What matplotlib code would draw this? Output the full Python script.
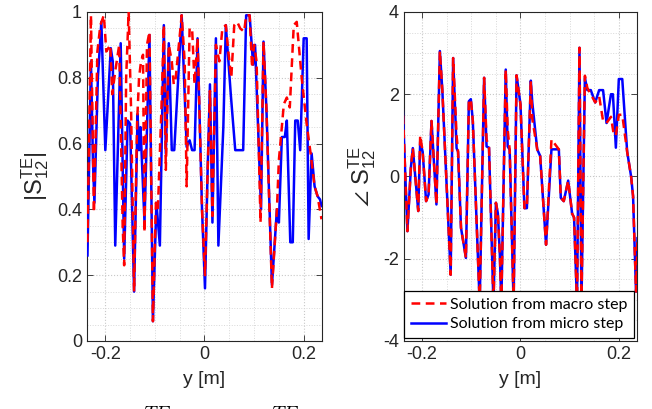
import numpy as np
import matplotlib
matplotlib.use('Agg')
import matplotlib.pyplot as plt
from matplotlib.ticker import AutoMinorLocator

plt.rcParams['font.family'] = ['Liberation Sans', 'DejaVu Sans']
plt.rcParams['axes.unicode_minus'] = False
plt.rcParams['mathtext.fontset'] = 'custom'
plt.rcParams['mathtext.rm'] = 'Liberation Sans'
plt.rcParams['mathtext.it'] = 'Liberation Sans:italic'

# |S12| - micro step (blue)
mag_micro_y = [-0.236, -0.229, -0.225, -0.222, -0.215, -0.208, -0.200, -0.189, -0.185, -0.180,
               -0.169, -0.162, -0.155, -0.150, -0.142, -0.135, -0.132, -0.129, -0.121, -0.111,
               -0.104, -0.097, -0.090, -0.082, -0.078, -0.072, -0.066, -0.061, -0.046, -0.036,
               -0.030, -0.025, -0.020, -0.014, -0.005, 0.001, 0.006, 0.011, 0.016, 0.023,
               0.028, 0.038, 0.043, 0.053, 0.062, 0.078, 0.084, 0.091, 0.098, 0.102,
               0.109, 0.114, 0.119, 0.125, 0.136, 0.146, 0.150, 0.156, 0.162, 0.166,
               0.173, 0.178, 0.183, 0.188, 0.193, 0.200, 0.206, 0.210, 0.216, 0.222,
               0.228, 0.233, 0.236]
mag_micro = [0.26, 0.85, 0.55, 0.42, 0.80, 0.97, 0.58, 0.89, 0.85, 0.29,
             0.905, 0.25, 0.67, 0.66, 0.15, 0.69, 0.58, 0.65, 0.36, 0.93,
             0.06, 0.42, 0.29, 0.96, 0.57, 0.905, 0.58, 0.58, 0.99, 0.59,
             0.61, 0.58, 0.58, 0.92, 0.40, 0.16, 0.50, 0.78, 0.36, 0.92,
             0.29, 0.65, 0.96, 0.75, 0.58, 0.58, 0.99, 0.99, 0.84, 0.90,
             0.61, 0.40, 0.91, 0.70, 0.17, 0.40, 0.36, 0.62, 0.62, 0.67,
             0.30, 0.30, 0.67, 0.67, 0.58, 0.92, 0.92, 0.31, 0.57, 0.47,
             0.44, 0.43, 0.41]

# |S12| - macro step (red)
mag_macro_y = [-0.236, -0.229, -0.223, -0.216, -0.210, -0.203, -0.198, -0.190, -0.186, -0.180,
               -0.172, -0.165, -0.162, -0.158, -0.153, -0.148, -0.142, -0.136, -0.132, -0.128,
               -0.124, -0.121, -0.116, -0.111, -0.104, -0.098, -0.094, -0.087, -0.082, -0.078,
               -0.072, -0.066, -0.062, -0.058, -0.046, -0.040, -0.036, -0.030, -0.025, -0.020,
               -0.014, -0.005, 0.001, 0.006, 0.011, 0.016, 0.023, 0.030, 0.036, 0.043,
               0.048, 0.054, 0.060, 0.066, 0.072, 0.080, 0.084, 0.091, 0.096, 0.100,
               0.105, 0.109, 0.113, 0.119, 0.125, 0.131, 0.136, 0.146, 0.150, 0.153,
               0.160, 0.166, 0.172, 0.180, 0.186, 0.196, 0.206, 0.214, 0.222, 0.228,
               0.236]
mag_macro = [0.30, 0.99, 0.39, 0.88, 0.96, 0.99, 0.88, 0.90, 0.75, 0.82,
             0.90, 0.35, 0.23, 0.80, 1.00, 0.70, 0.15, 0.66, 0.80, 0.85,
             0.87, 0.33, 0.90, 0.94, 0.06, 0.42, 0.40, 0.70, 0.96, 0.52,
             0.90, 0.85, 0.78, 0.80, 0.99, 0.85, 0.47, 0.95, 0.95, 0.78,
             0.92, 0.40, 0.20, 0.50, 0.76, 0.38, 0.90, 0.85, 0.95, 0.96,
             0.88, 0.80, 0.96, 0.97, 0.95, 0.94, 0.99, 0.99, 0.83, 0.90,
             0.85, 0.61, 0.36, 0.91, 0.70, 0.40, 0.16, 0.40, 0.55, 0.60,
             0.72, 0.74, 0.71, 0.96, 0.97, 0.80, 0.66, 0.57, 0.47, 0.44,
             0.37]

# angle S12 - micro step (blue)
ph_micro_y = [-0.240, -0.230, -0.223, -0.219, -0.208, -0.204, -0.199, -0.192, -0.187, -0.181,
              -0.171, -0.164, -0.159, -0.142, -0.137, -0.130, -0.127, -0.121, -0.111, -0.105,
              -0.101, -0.097, -0.083, -0.074, -0.069, -0.064, -0.055, -0.050, -0.046, -0.042,
              -0.039, -0.030, -0.026, -0.022, -0.014, -0.008, 0.000, 0.008, 0.013, 0.021,
              0.024, 0.034, 0.040, 0.052, 0.063, 0.078, 0.082, 0.088, 0.097, 0.105,
              0.109, 0.115, 0.120, 0.124, 0.131, 0.136, 0.143, 0.152, 0.160, 0.168,
              0.175, 0.184, 0.188, 0.194, 0.200, 0.207, 0.217, 0.225, 0.229, 0.235,
              0.238]
ph_micro = [1.83, -1.33, 0.21, 0.69, -0.84, 0.85, 0.60, -0.60, -0.44, 1.35,
            -0.68, 3.05, 2.10, -2.39, 2.88, 0.69, 0.60, -1.25, -1.98, 1.83,
            1.88, 1.35, -3.10, 2.40, 0.73, 0.70, -3.10, -0.64, -0.90, -1.90,
            -3.10, 2.60, 0.73, 0.65, -3.10, 2.46, 1.75, -0.77, -0.77, 2.33,
            1.80, 0.66, 0.50, -1.66, 0.66, 0.66, -0.52, -0.60, -0.10, -0.90,
            -1.00, -3.10, 3.13, -3.10, 2.40, 2.10, 2.10, 1.80, 2.10, 2.10,
            1.30, 2.00, 2.00, 0.70, 2.37, 2.37, 0.60, 0.00, -0.48, -2.80,
            -1.50]

# angle S12 - macro step (red)
ph_macro_y = [-0.240, -0.230, -0.223, -0.219, -0.208, -0.204, -0.199, -0.192, -0.187, -0.181,
              -0.171, -0.164, -0.159, -0.142, -0.137, -0.130, -0.127, -0.121, -0.111, -0.105,
              -0.101, -0.097, -0.083, -0.074, -0.069, -0.064, -0.055, -0.050, -0.046, -0.042,
              -0.039, -0.030, -0.026, -0.022, -0.014, -0.008, 0.000, 0.008, 0.013, 0.021,
              0.024, 0.034, 0.040, 0.052, 0.063, 0.078, 0.082, 0.088, 0.097, 0.105,
              0.109, 0.115, 0.120, 0.124, 0.131, 0.136, 0.143, 0.152, 0.160, 0.168,
              0.175, 0.184, 0.190, 0.194, 0.200, 0.207, 0.217, 0.225, 0.229, 0.235,
              0.238]
ph_macro = [1.83, -1.33, 0.21, 0.69, -0.84, 1.00, 0.60, -0.60, -0.44, 1.35,
            -0.68, 3.05, 2.10, -2.39, 2.88, 1.00, 0.60, -1.25, -1.98, 1.83,
            1.88, 1.35, -3.10, 2.40, 0.90, 0.70, -3.10, -0.64, -0.90, -1.90,
            -3.10, 2.60, 1.14, 0.65, -3.10, 2.46, 1.75, -0.77, -0.77, 2.33,
            1.40, 0.66, 0.50, -1.66, 0.90, 0.66, -0.52, -0.60, -0.10, -0.90,
            -1.00, -3.10, 3.13, -3.10, 2.45, 2.15, 2.00, 1.80, 1.95, 1.35,
            1.30, 1.45, 1.00, 1.00, 1.50, 1.50, 0.60, 0.00, -0.48, -2.80,
            -1.50]

dark = '#262626'
fig = plt.figure(figsize=(6.52, 4.09), dpi=100)
ax1 = fig.add_axes([0.1334, 0.1663, 0.3605, 0.8044])
ax2 = fig.add_axes([0.6196, 0.1663, 0.3574, 0.8044])

for ax in (ax1, ax2):
    ax.plot(mag_micro_y if ax is ax1 else ph_micro_y,
            mag_micro if ax is ax1 else ph_micro,
            color='blue', lw=1.8, label='Solution from micro step', zorder=3)
    ax.plot(mag_macro_y if ax is ax1 else ph_macro_y,
            mag_macro if ax is ax1 else ph_macro,
            color='red', lw=1.8, ls=(0, (3.5, 2.2)), label='Solution from macro step', zorder=4)
    ax.set_xlim(-0.237, 0.237)
    ax.set_xticks([-0.2, 0, 0.2])
    ax.set_xticklabels(['-0.2', '0', '0.2'])
    ax.xaxis.set_minor_locator(AutoMinorLocator(4))
    ax.yaxis.set_minor_locator(AutoMinorLocator(4))
    ax.grid(True, which='major', ls=':', color='#c8c8c8', lw=0.8)
    ax.grid(True, which='minor', ls=':', color='#d8d8d8', lw=0.7)
    ax.tick_params(which='both', direction='in', top=True, right=True, colors=dark,
                   labelsize=13, length=4, width=0.6)
    ax.tick_params(which='minor', length=0)
    for s in ax.spines.values():
        s.set_color(dark)
        s.set_linewidth(0.8)
    ax.set_xlabel('y [m]', fontsize=14, color=dark, labelpad=6)

ax1.set_ylim(0, 1)
ax1.set_yticks([0, 0.2, 0.4, 0.6, 0.8, 1])
ax1.set_yticklabels(['0', '0.2', '0.4', '0.6', '0.8', '1'])
ax1.set_ylabel(r'$|\mathrm{S}_{12}^{\mathrm{TE}}|$', fontsize=17, color=dark, labelpad=4)

ax2.set_ylim(-4, 4)
ax2.set_yticks([-4, -2, 0, 2, 4])
ax2.set_yticklabels(['-4', '-2', '0', '2', '4'])
ax2.set_ylabel(r'$\angle\ \mathrm{S}_{12}^{\mathrm{TE}}$', fontsize=17, color=dark, labelpad=4)

handles, labels = ax2.get_legend_handles_labels()
leg = ax2.legend(handles[::-1], labels[::-1], loc='lower right', fancybox=False,
                 framealpha=1, edgecolor='black', prop={'family': 'Lato', 'size': 11.5},
                 handlelength=2.2, handletextpad=0.25, borderpad=0.4, labelspacing=0.35,
                 borderaxespad=0.2)
leg.get_frame().set_linewidth(0.9)
leg.set_zorder(10)

# caption of the source document, mostly cut off at the bottom edge
fig.text(0.177, -0.055, r'$|S_{12}^{TE}|$', fontsize=20, math_fontfamily='cm', va='baseline')
fig.text(0.356, -0.055, r'$\angle S_{12}^{TE}$', fontsize=20, math_fontfamily='cm', va='baseline')

fig.savefig('out.png', dpi=100)
